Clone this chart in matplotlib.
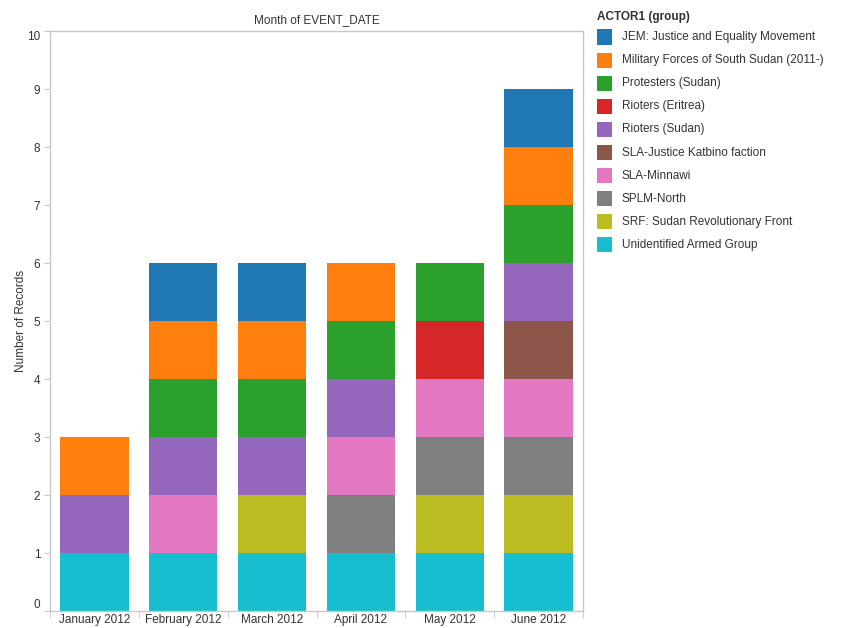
import matplotlib
matplotlib.use("Agg")
import matplotlib.pyplot as plt
from matplotlib.patches import Rectangle
import numpy as np

plt.rcParams['font.family'] = ['Liberation Sans', 'DejaVu Sans']

months = ["January 2012", "February 2012", "March 2012", "April 2012", "May 2012", "June 2012"]
actors = ["JEM: Justice and Equality Movement",
          "Military Forces of South Sudan (2011-)",
          "Protesters (Sudan)",
          "Rioters (Eritrea)",
          "Rioters (Sudan)",
          "SLA-Justice Katbino faction",
          "SLA-Minnawi",
          "SPLM-North",
          "SRF: Sudan Revolutionary Front",
          "Unidentified Armed Group"]
colors = ["#1f77b4", "#ff7f0e", "#2ca02c", "#d62728", "#9467bd",
          "#8c564b", "#e377c2", "#7f7f7f", "#bcbd22", "#17becf"]

# counts per actor, per month (Jan..Jun)
jem          = [0, 1, 1, 0, 0, 1]
military     = [1, 1, 1, 1, 0, 1]
protesters   = [0, 1, 1, 1, 1, 1]
rioters_eri  = [0, 0, 0, 0, 1, 0]
rioters_sud  = [1, 1, 1, 1, 0, 1]
sla_justice  = [0, 0, 0, 0, 0, 1]
sla_minnawi  = [0, 1, 0, 1, 1, 1]
splm_north   = [0, 0, 0, 1, 1, 1]
srf          = [0, 0, 1, 0, 1, 1]
unidentified = [1, 1, 1, 1, 1, 1]
values = [jem, military, protesters, rioters_eri, rioters_sud,
          sla_justice, sla_minnawi, splm_north, srf, unidentified]

W, H = 846, 628
fig = plt.figure(figsize=(W / 100, H / 100), dpi=100)
ax = fig.add_axes([50 / W, (H - 611) / H, 533 / W, 580 / H])

x = np.arange(len(months))
bottom = np.zeros(len(months))
# stack from last legend entry (bottom) to first (top)
for name, vals, col in reversed(list(zip(actors, values, colors))):
    v = np.array(vals, dtype=float)
    ax.bar(x, v, bottom=bottom, width=0.77, color=col, label=name, linewidth=0)
    bottom += v

ax.set_xlim(-0.5, len(months) - 0.5)
ax.set_ylim(0, 10)

spine_col = "#c8c8c8"
text_col = "#333333"
for s in ax.spines.values():
    s.set_color(spine_col)
    s.set_linewidth(1.0)

ax.set_yticks(range(0, 11))
ax.set_yticklabels([str(i) for i in range(0, 11)])
ax.tick_params(axis='y', length=4, color=spine_col, labelsize=8.5, labelcolor=text_col, pad=3)
for lab in ax.get_yticklabels():
    if lab.get_text() == "10":
        lab.set_va('top')
    elif lab.get_text() == "0":
        lab.set_va('bottom')

# x: labels at centers, tick marks at boundaries
ax.set_xticks(x)
ax.set_xticklabels(months)
ax.tick_params(axis='x', length=0, labelsize=8.5, labelcolor=text_col, pad=2.5)
ax.set_xticks(np.arange(-0.5, len(months) + 0.5, 1.0), minor=True)
ax.tick_params(axis='x', which='minor', length=5, color=spine_col)

ax.set_ylabel("Number of Records", fontsize=8.5, color=text_col, labelpad=0)
ax.set_title("Month of EVENT_DATE", fontsize=8.5, color=text_col, pad=6)

# legend drawn manually in pixel positions
fig.text(597 / W, 1 - 17 / H, "ACTOR1 (group)", fontsize=8.5, fontweight='bold',
         color=text_col, va='center', ha='left')
for i, (name, col) in enumerate(zip(actors, colors)):
    yc = 37 + i * 23.1
    fig.add_artist(Rectangle((597 / W, 1 - (yc + 7.5) / H), 15 / W, 15 / H,
                             transform=fig.transFigure, color=col, linewidth=0))
    fig.text(622 / W, 1 - yc / H, name, fontsize=8.5, color=text_col,
             va='center', ha='left')

fig.savefig("out.png", dpi=100)
